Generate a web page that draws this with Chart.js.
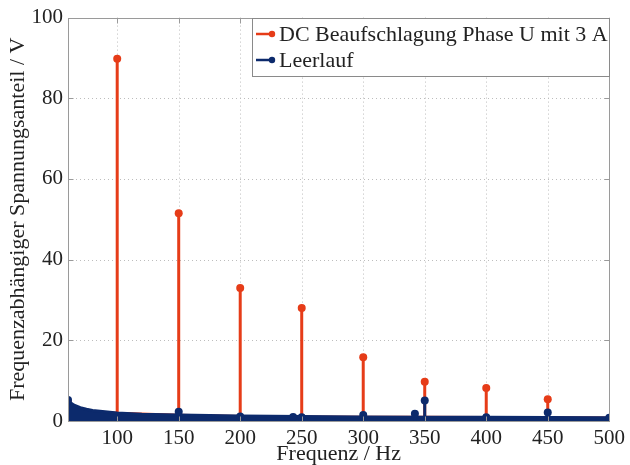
<!DOCTYPE html>
<html>
<head>
<meta charset="utf-8">
<script src="https://cdn.jsdelivr.net/npm/chart.js@4/dist/chart.umd.min.js"></script>
<style>
html,body{margin:0;padding:0;background:#fff;}
#wrap{width:630px;height:465px;position:relative;}
</style>
</head>
<body>
<div id="wrap"><canvas id="c" width="630" height="465"></canvas></div>
<script>
// ---- data ----
const seriesNames = ["DC Beaufschlagung Phase U mit 3 A", "Leerlauf"];
const freqTicks = [100, 150, 200, 250, 300, 350, 400, 450, 500];
const voltTicks = [0, 20, 40, 60, 80, 100];

// DC series: dominant stems
const dcFreq = [60, 100, 150, 200, 250, 300, 350, 400, 450];
const dcVolt = [4.5, 89.8, 51.5, 33.0, 28.0, 15.8, 9.7, 8.2, 5.4];
// DC series: dense low-level envelope
const dcEnvFreq = [60, 65, 70, 80, 90, 100, 150, 200, 250, 300, 350, 400, 450, 500];
const dcEnvVolt = [4.5, 3.6, 3.0, 2.4, 2.1, 1.9, 1.4, 1.1, 1.0, 0.95, 0.9, 0.85, 0.8, 0.75];

// Leerlauf series: stems with markers
const llFreq = [60, 150, 200, 243, 250, 300, 342, 350, 400, 450, 500];
const llVolt = [5.2, 2.3, 1.1, 1.0, 0.9, 1.5, 1.8, 5.1, 0.9, 2.1, 0.8];
// Leerlauf series: dense envelope
const llEnvFreq = [60, 62, 65, 70, 75, 80, 90, 100, 120, 150, 200, 250, 300, 350, 400, 450, 500];
const llEnvVolt = [5.2, 4.5, 3.9, 3.3, 2.9, 2.6, 2.3, 2.0, 1.7, 1.5, 1.25, 1.1, 1.0, 0.95, 0.9, 0.85, 0.8];

const RED = '#e63c18';
const BLUE = '#0c2a6c';
const FONT = "'Liberation Serif', 'Times New Roman', serif";

function stemPoints(xs, ys) {
  const pts = [];
  xs.forEach((x, i) => { pts.push({x: x, y: 0}, {x: x, y: ys[i]}, {x: x, y: null}); });
  return pts;
}
function envPoints(xs, ys) { return xs.map((x, i) => ({x: x, y: ys[i]})); }

const tipRadius = ctx => (ctx.dataIndex % 3 === 1 ? 4 : 0);

const gridPlugin = {
  id: 'dottedGrid',
  beforeDatasetsDraw(chart) {
    const {ctx, chartArea: a, scales: {x, y}} = chart;
    ctx.save();
    ctx.strokeStyle = '#bdbdbd';
    ctx.lineWidth = 1;
    ctx.setLineDash([1, 3]);
    freqTicks.forEach(v => {
      const px = Math.round(x.getPixelForValue(v)) + 0.5;
      ctx.beginPath(); ctx.moveTo(px, a.top); ctx.lineTo(px, a.bottom); ctx.stroke();
    });
    voltTicks.forEach(v => {
      const py = Math.round(y.getPixelForValue(v)) + 0.5;
      ctx.beginPath(); ctx.moveTo(a.left, py); ctx.lineTo(a.right, py); ctx.stroke();
    });
    ctx.restore();
  }
};

const framePlugin = {
  id: 'frame',
  afterDraw(chart) {
    const {ctx, chartArea: a, scales: {x, y}} = chart;
    ctx.save();
    ctx.strokeStyle = '#9a9a9a';
    ctx.lineWidth = 1;
    const L = Math.round(a.left) + 0.5, T = Math.round(a.top) + 0.5;
    const R = Math.round(a.right) + 0.5, B = Math.round(a.bottom) + 0.5;
    ctx.strokeRect(L, T, R - L, B - T);
    // inner tick marks
    const tl = 5;
    ctx.beginPath();
    freqTicks.forEach(v => {
      const px = Math.round(x.getPixelForValue(v)) + 0.5;
      ctx.moveTo(px, B); ctx.lineTo(px, B - tl);
      ctx.moveTo(px, T); ctx.lineTo(px, T + tl);
    });
    voltTicks.forEach(v => {
      const py = Math.round(y.getPixelForValue(v)) + 0.5;
      ctx.moveTo(L, py); ctx.lineTo(L + tl, py);
      ctx.moveTo(R, py); ctx.lineTo(R - tl, py);
    });
    ctx.stroke();
    // legend box
    const bx = 252, by = 18, bw = 357, bh = 58;
    ctx.fillStyle = '#fff';
    ctx.fillRect(bx, by, bw, bh);
    ctx.strokeStyle = '#8a8a8a';
    ctx.strokeRect(bx + 0.5, by + 0.5, bw, bh);
    const cols = [RED, BLUE];
    const rows = [by + 16, by + 42];
    ctx.font = '22px ' + FONT;
    ctx.textBaseline = 'middle';
    ctx.textAlign = 'left';
    seriesNames.forEach((name, i) => {
      const yy = rows[i];
      ctx.strokeStyle = cols[i];
      ctx.lineWidth = 2.5;
      ctx.beginPath(); ctx.moveTo(256, yy); ctx.lineTo(273, yy); ctx.stroke();
      ctx.fillStyle = cols[i];
      ctx.beginPath(); ctx.arc(272, yy, 3.2, 0, Math.PI * 2); ctx.fill();
      ctx.fillStyle = '#222';
      ctx.fillText(name, 279, yy + 1);
    });
    ctx.restore();
  }
};

new Chart(document.getElementById('c'), {
  type: 'line',
  data: {
    datasets: [
      { label: seriesNames[1], data: stemPoints(llFreq, llVolt), borderColor: BLUE, backgroundColor: BLUE,
        borderWidth: 3, pointRadius: tipRadius, pointBorderWidth: 0, spanGaps: false, order: 1 },
      { label: seriesNames[1], data: envPoints(llEnvFreq, llEnvVolt), borderColor: BLUE, backgroundColor: BLUE,
        borderWidth: 3, pointRadius: 0, fill: 'origin', order: 2 },
      { label: seriesNames[0], data: stemPoints(dcFreq, dcVolt), borderColor: RED, backgroundColor: RED,
        borderWidth: 3, pointRadius: tipRadius, pointBorderWidth: 0, spanGaps: false, order: 3 },
      { label: seriesNames[0], data: envPoints(dcEnvFreq, dcEnvVolt), borderColor: RED, backgroundColor: RED,
        borderWidth: 3, pointRadius: 0, fill: 'origin', order: 4 }
    ]
  },
  options: {
    responsive: false,
    animation: false,
    layout: { padding: { top: 15, right: 17, left: 0, bottom: 0 } },
    plugins: { legend: { display: false }, tooltip: { enabled: false } },
    elements: { line: { tension: 0 } },
    scales: {
      x: {
        type: 'linear', min: 60, max: 500,
        afterBuildTicks: s => { s.ticks = freqTicks.map(v => ({value: v})); },
        afterFit: s => { s.height = 44; },
        grid: { display: false, drawTicks: false },
        border: { display: false },
        ticks: { font: { family: FONT, size: 21 }, color: '#222', padding: 5, maxRotation: 0 },
        title: { display: true, text: 'Frequenz / Hz', font: { family: FONT, size: 22, lineHeight: 1 }, color: '#222', padding: 0 }
      },
      y: {
        type: 'linear', min: 0, max: 100,
        afterBuildTicks: s => { s.ticks = voltTicks.map(v => ({value: v})); },
        afterFit: s => { s.width = 68; },
        grid: { display: false, drawTicks: false },
        border: { display: false },
        ticks: { font: { family: FONT, size: 21 }, color: '#222', padding: 5 },
        title: { display: true, text: 'Frequenzabhängiger Spannungsanteil / V', font: { family: FONT, size: 22, lineHeight: 1 }, color: '#222', padding: { top: 7, bottom: 0 } }
      }
    }
  },
  plugins: [gridPlugin, framePlugin]
});
</script>
</body>
</html>
